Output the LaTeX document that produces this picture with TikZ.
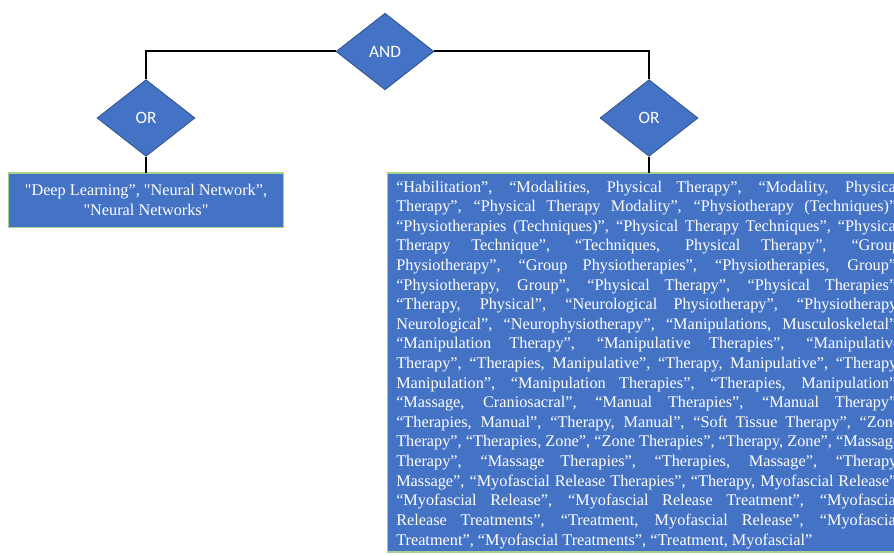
\documentclass[tikz,border=0pt]{standalone}
\usepackage{fontspec}
\usetikzlibrary{shapes.geometric}
\newfontfamily\termfont{Liberation Serif}
\newfontfamily\gatefont{Carlito}
\definecolor{boxblue}{HTML}{4472C4}
\definecolor{gateedge}{HTML}{2F528F}
\definecolor{boxedge}{HTML}{A9D18E}
\newlength\termwidth
\setlength\termwidth{378pt}
\tikzset{
  gate/.style={diamond, fill=boxblue, draw=gateedge, line width=0.6pt,
    minimum width=73.5pt, minimum height=57.5pt, inner sep=0pt, aspect=1.27,
    text=white, font=\gatefont\fontsize{13pt}{15pt}\selectfont},
  termbox/.style={fill=boxblue, draw=boxedge, line width=0.9pt},
  termtext/.style={text=white, inner sep=0pt,
    font=\termfont\fontsize{12.2pt}{14.7pt}\selectfont},
  link/.style={draw=black, line width=1.5pt}
}
\begin{document}
\begin{tikzpicture}[x=0.75pt,y=-0.75pt]
\useasboundingbox (0,0) rectangle (894,556);
\clip (0,0) rectangle (894,556);

% logic gates
\node[gate] (and) at (385,51.5) {AND};
\node[gate] (orl) at (146,118) {OR};
\node[gate] (orr) at (649,118) {OR};

% term boxes
\draw[termbox] (8.5,173) rectangle (283.5,227.5);
\coordinate (boxl) at (146,173);
\draw[termbox] (387.5,173) rectangle (908,552);
\coordinate (boxr) at (649,173);

% connectors
\draw[link] (and.west) -| (orl.north);
\draw[link] (and.east) -| (orr.north);
\draw[link] (orl.south) -- (boxl);
\draw[link] (orr.south) -- (boxr);

% left term list
\node[termtext, anchor=base] (tl1) at (146,195.5) {"Deep Learning”, "Neural Network”,};
\node[termtext, anchor=base] (tl2) at (146,215.5) {"Neural Networks"};

% right term list, justified lines
\foreach [count=\i] \ln in {
  {“Habilitation”, “Modalities, Physical Therapy”, “Modality, Physical},
  {Therapy”, “Physical Therapy Modality”, “Physiotherapy (Techniques)”,},
  {“Physiotherapies (Techniques)”, “Physical Therapy Techniques”, “Physical},
  {Therapy Technique”, “Techniques, Physical Therapy”, “Group},
  {Physiotherapy”, “Group Physiotherapies”, “Physiotherapies, Group”,},
  {“Physiotherapy, Group”, “Physical Therapy”, “Physical Therapies”,},
  {“Therapy, Physical”, “Neurological Physiotherapy”, “Physiotherapy,},
  {Neurological”, “Neurophysiotherapy”, “Manipulations, Musculoskeletal”,},
  {“Manipulation Therapy”, “Manipulative Therapies”, “Manipulative},
  {Therapy”, “Therapies, Manipulative”, “Therapy, Manipulative”, “Therapy,},
  {Manipulation”, “Manipulation Therapies”, “Therapies, Manipulation”,},
  {“Massage, Craniosacral”, “Manual Therapies”, “Manual Therapy”,},
  {“Therapies, Manual”, “Therapy, Manual”, “Soft Tissue Therapy”, “Zone},
  {Therapy”, “Therapies, Zone”, “Zone Therapies”, “Therapy, Zone”, “Massage},
  {Therapy”, “Massage Therapies”, “Therapies, Massage”, “Therapy,},
  {Massage”, “Myofascial Release Therapies”, “Therapy, Myofascial Release”,},
  {“Myofascial Release”, “Myofascial Release Treatment”, “Myofascial},
  {Release Treatments”, “Treatment, Myofascial Release”, “Myofascial}}
  \node[termtext, anchor=base west] (tr\i) at (396,{192.2+19.6*(\i-1)})
    {\makebox[\termwidth][s]{\ln}};
\node[termtext, anchor=base west] (tr19) at (396,545)
  {Treatment”, “Myofascial Treatments”, “Treatment, Myofascial”};
\end{tikzpicture}
\end{document}
